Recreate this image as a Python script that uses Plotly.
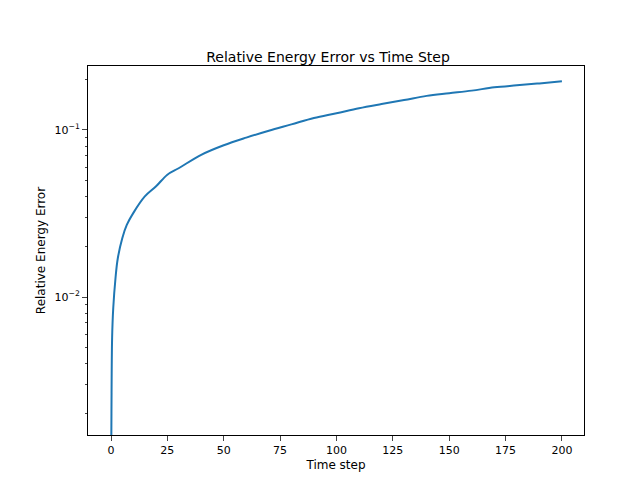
import plotly.graph_objects as go

time_step = [0, 0.2, 0.5, 1, 2, 3, 5, 7, 10, 15, 20, 25, 30, 40, 50, 60, 70, 80, 90, 100,
             110, 120, 130, 140, 150, 160, 170, 180, 190, 200]
rel_error = [0.0005, 0.002, 0.0057, 0.0086, 0.013, 0.017, 0.0225, 0.027, 0.032, 0.040, 0.046,
             0.054, 0.059, 0.071, 0.081, 0.090, 0.099, 0.108, 0.118, 0.126,
             0.135, 0.143, 0.151, 0.160, 0.166, 0.172, 0.180, 0.185, 0.190, 0.196]

fig = go.Figure(go.Scatter(x=time_step, y=rel_error, mode="lines",
                           line=dict(color="#1f77b4", width=2, shape="spline")))

axis_style = dict(showline=True, linecolor="black", mirror=True, ticks="outside",
                  showgrid=False, zeroline=False, automargin=False,
                  tickfont=dict(size=11, color="black"))
fig.update_layout(
    width=640, height=480, plot_bgcolor="white", paper_bgcolor="white",
    font=dict(family="DejaVu Sans", color="black"),
    margin=dict(l=80, r=64, t=58, b=53),
    title=dict(text="Relative Energy Error vs Time Step", x=0.5, xanchor="center",
               y=0.888, yanchor="bottom", font=dict(size=14)),
    xaxis=dict(title=dict(text="Time step", font=dict(size=12), standoff=4),
               range=[-10.2, 209.8],
               tickvals=[0, 25, 50, 75, 100, 125, 150, 175, 200], **axis_style),
    yaxis=dict(title=dict(text="Relative Energy Error", font=dict(size=12), standoff=6),
               type="log", range=[-2.826, -0.617], tickvals=[0.01, 0.1],
               ticktext=["10<sup>−2</sup>", "10<sup>−1</sup>"],
               minor=dict(ticks="outside", ticklen=2, tickvals=[0.002, 0.003, 0.004, 0.005, 0.006, 0.007, 0.008, 0.009,
                                                                  0.02, 0.03, 0.04, 0.05, 0.06, 0.07, 0.08, 0.09, 0.2]),
               **axis_style),
    showlegend=False,
)
fig.write_html("out.html")
